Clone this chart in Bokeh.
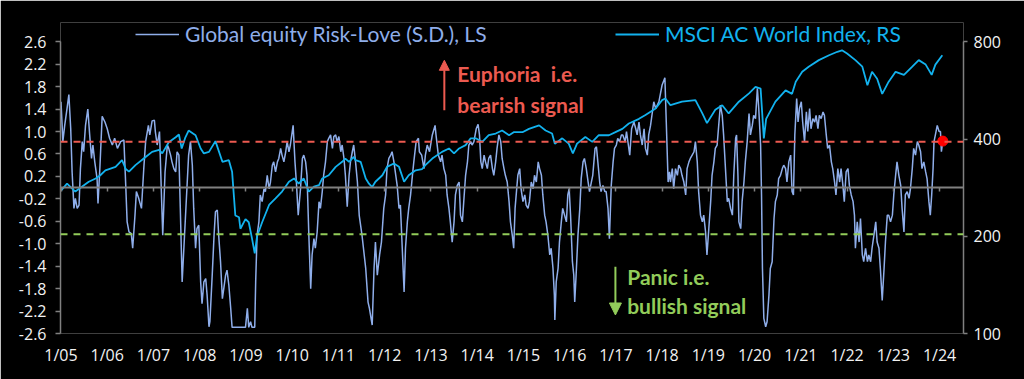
from bokeh.plotting import figure
from bokeh.models import (Range1d, LinearAxis, LogAxis, LogScale, FixedTicker, NumeralTickFormatter,
                          Span, Label, Arrow, NormalHead, Legend, LegendItem)
from bokeh.embed import file_html
from bokeh.resources import INLINE

# ---------------- data ----------------
rl_year = [2005.00, 2005.04, 2005.08, 2005.13, 2005.17, 2005.21, 2005.24, 2005.28, 2005.31, 2005.35,
           2005.39, 2005.42, 2005.46, 2005.49, 2005.53, 2005.58, 2005.62, 2005.66, 2005.69, 2005.73,
           2005.78, 2005.80, 2005.84, 2005.89, 2005.95, 2006.00, 2006.05, 2006.11, 2006.16, 2006.22,
           2006.29, 2006.36, 2006.40, 2006.43, 2006.47, 2006.52, 2006.55, 2006.60, 2006.63, 2006.68,
           2006.74, 2006.79, 2006.83, 2006.89, 2006.92, 2006.97, 2007.02, 2007.04, 2007.08, 2007.13,
           2007.17, 2007.20, 2007.25, 2007.30, 2007.33, 2007.37, 2007.40, 2007.44, 2007.48, 2007.51,
           2007.55, 2007.58, 2007.62, 2007.66, 2007.69, 2007.73, 2007.76, 2007.80, 2007.84, 2007.87,
           2007.91, 2007.94, 2007.98, 2008.02, 2008.05, 2008.09, 2008.13, 2008.16, 2008.20, 2008.22,
           2008.27, 2008.31, 2008.34, 2008.38, 2008.41, 2008.45, 2008.49, 2008.52, 2008.56, 2008.59,
           2008.63, 2008.67, 2008.70, 2008.85, 2008.99, 2009.03, 2009.06, 2009.10, 2009.13, 2009.19,
           2009.21, 2009.24, 2009.28, 2009.31, 2009.35, 2009.39, 2009.42, 2009.46, 2009.50, 2009.53,
           2009.57, 2009.60, 2009.64, 2009.68, 2009.71, 2009.75, 2009.78, 2009.82, 2009.86, 2009.89,
           2009.93, 2009.96, 2010.02, 2010.06, 2010.09, 2010.13, 2010.18, 2010.22, 2010.25, 2010.29,
           2010.32, 2010.36, 2010.40, 2010.43, 2010.47, 2010.50, 2010.54, 2010.58, 2010.61, 2010.65,
           2010.68, 2010.72, 2010.76, 2010.79, 2010.83, 2010.87, 2010.90, 2010.94, 2010.97, 2011.01,
           2011.05, 2011.08, 2011.12, 2011.15, 2011.19, 2011.23, 2011.26, 2011.30, 2011.33, 2011.37,
           2011.41, 2011.45, 2011.51, 2011.59, 2011.64, 2011.67, 2011.73, 2011.77, 2011.80, 2011.84,
           2011.89, 2011.93, 2011.98, 2012.02, 2012.05, 2012.09, 2012.13, 2012.16, 2012.20, 2012.24,
           2012.27, 2012.31, 2012.34, 2012.38, 2012.42, 2012.45, 2012.49, 2012.52, 2012.56, 2012.60,
           2012.63, 2012.68, 2012.73, 2012.75, 2012.80, 2012.85, 2012.88, 2012.92, 2012.97, 2013.03,
           2013.09, 2013.11, 2013.16, 2013.21, 2013.24, 2013.28, 2013.32, 2013.35, 2013.39, 2013.42,
           2013.46, 2013.50, 2013.53, 2013.57, 2013.61, 2013.64, 2013.68, 2013.71, 2013.75, 2013.79,
           2013.82, 2013.86, 2013.89, 2013.93, 2013.98, 2014.02, 2014.05, 2014.08, 2014.11, 2014.15,
           2014.18, 2014.22, 2014.25, 2014.29, 2014.33, 2014.36, 2014.40, 2014.43, 2014.47, 2014.51,
           2014.54, 2014.58, 2014.61, 2014.65, 2014.69, 2014.72, 2014.76, 2014.79, 2014.82, 2014.85,
           2014.88, 2014.92, 2014.95, 2014.99, 2015.03, 2015.06, 2015.10, 2015.13, 2015.17, 2015.21,
           2015.24, 2015.28, 2015.32, 2015.35, 2015.39, 2015.42, 2015.46, 2015.49, 2015.53, 2015.57,
           2015.60, 2015.64, 2015.67, 2015.68, 2015.71, 2015.75, 2015.78, 2015.82, 2015.85, 2015.89,
           2015.93, 2015.96, 2015.99, 2016.02, 2016.06, 2016.09, 2016.11, 2016.14, 2016.18, 2016.22,
           2016.25, 2016.29, 2016.32, 2016.36, 2016.40, 2016.43, 2016.47, 2016.50, 2016.55, 2016.58,
           2016.61, 2016.65, 2016.68, 2016.72, 2016.76, 2016.79, 2016.83, 2016.86, 2016.90, 2016.94,
           2016.97, 2017.01, 2017.04, 2017.08, 2017.12, 2017.15, 2017.20, 2017.23, 2017.27, 2017.30,
           2017.34, 2017.39, 2017.43, 2017.46, 2017.50, 2017.53, 2017.57, 2017.61, 2017.64, 2017.68,
           2017.71, 2017.75, 2017.79, 2017.82, 2017.86, 2017.93, 2018.00, 2018.06, 2018.09, 2018.13,
           2018.16, 2018.18, 2018.22, 2018.25, 2018.29, 2018.33, 2018.36, 2018.40, 2018.43, 2018.47,
           2018.51, 2018.54, 2018.58, 2018.61, 2018.65, 2018.69, 2018.72, 2018.76, 2018.79, 2018.83,
           2018.87, 2018.90, 2018.94, 2018.97, 2019.01, 2019.05, 2019.08, 2019.12, 2019.15, 2019.19,
           2019.23, 2019.26, 2019.30, 2019.33, 2019.37, 2019.41, 2019.44, 2019.48, 2019.52, 2019.55,
           2019.59, 2019.61, 2019.64, 2019.66, 2019.70, 2019.73, 2019.77, 2019.80, 2019.84, 2019.88,
           2019.91, 2019.95, 2019.98, 2020.02, 2020.06, 2020.09, 2020.13, 2020.15, 2020.17, 2020.20,
           2020.24, 2020.27, 2020.31, 2020.34, 2020.38, 2020.42, 2020.45, 2020.49, 2020.52, 2020.56,
           2020.60, 2020.63, 2020.67, 2020.70, 2020.74, 2020.78, 2020.81, 2020.84, 2020.87, 2020.91,
           2020.94, 2020.97, 2021.01, 2021.04, 2021.08, 2021.12, 2021.15, 2021.19, 2021.22, 2021.26,
           2021.30, 2021.33, 2021.37, 2021.40, 2021.44, 2021.48, 2021.51, 2021.55, 2021.58, 2021.62,
           2021.66, 2021.69, 2021.73, 2021.76, 2021.80, 2021.84, 2021.87, 2021.91, 2021.94, 2021.98,
           2022.02, 2022.05, 2022.09, 2022.13, 2022.16, 2022.18, 2022.22, 2022.26, 2022.29, 2022.33,
           2022.36, 2022.40, 2022.44, 2022.47, 2022.51, 2022.54, 2022.58, 2022.62, 2022.65, 2022.69,
           2022.72, 2022.76, 2022.80, 2022.83, 2022.87, 2022.90, 2022.94, 2022.98, 2023.01, 2023.05,
           2023.08, 2023.12, 2023.16, 2023.19, 2023.23, 2023.26, 2023.30, 2023.34, 2023.37, 2023.41,
           2023.44, 2023.48, 2023.52, 2023.55, 2023.59, 2023.62, 2023.66, 2023.70, 2023.73, 2023.77,
           2023.80, 2023.83, 2023.86, 2023.88, 2023.91, 2023.95, 2023.99, 2024.02, 2024.04, 2024.07]

rl_value = [1.53, 0.82, 1.11, 1.41, 1.66, 1.05, 0.28, -0.37, -0.19, -0.37,
            -0.31, 0.34, 0.82, 0.64, 1.11, 1.40, 0.94, 0.52, 0.76, 0.46,
            0.16, -0.28, 0.34, 1.27, 1.17, 1.05, 0.88, 0.76, 0.88, 0.70,
            0.82, 0.85, 0.04, -0.61, -0.79, -0.82, -1.08, -0.49, -0.07, -0.19,
            -0.37, 0.34, 0.82, 1.11, 0.94, 1.19, 1.20, 1.00, 0.76, 1.00,
            -0.07, -0.85, 0.28, 0.76, 0.70, 0.58, 0.46, 0.34, 0.28, 0.64,
            0.58, -0.37, -1.68, -1.03, -0.55, 0.10, 0.58, 0.82, 0.40, -0.37,
            -1.08, -0.73, -0.67, -1.68, -2.07, -1.68, -1.62, -1.92, -2.48, -2.39,
            -1.56, -0.85, -0.43, -0.40, -0.85, -1.32, -1.98, -1.80, -1.56, -1.47,
            -1.74, -2.15, -2.49, -2.49, -2.49, -2.15, -2.49, -2.39, -2.49, -2.49,
            -1.68, -0.85, -0.61, -0.13, -0.25, -0.02, -0.07, 0.22, -0.02, 0.10,
            0.40, 0.46, 0.28, 0.46, 0.52, 0.70, 0.58, 0.46, 0.64, 0.82,
            0.64, 0.76, 1.11, 0.46, 0.10, -0.49, -0.02, 0.52, 0.58, 0.46,
            0.22, -0.85, -1.80, -1.20, -0.91, -1.08, -0.79, -0.25, -0.37, -0.07,
            0.22, 0.46, 0.82, 0.88, 0.94, 0.70, 0.91, 0.94, 0.82, 0.91,
            0.64, 0.76, 0.52, 0.22, -0.34, 0.22, 0.46, 0.64, 0.76, 0.46,
            0.10, -0.50, -0.85, -1.44, -2.04, -2.15, -2.45, -1.44, -0.97, -1.56,
            -1.20, -0.97, -0.37, -0.13, 0.34, 0.52, 0.58, 0.64, 0.46, 0.22,
            0.04, -0.37, -0.31, -1.08, -1.86, -1.08, -0.61, -0.37, -0.13, 0.22,
            0.46, 0.82, 0.88, 0.64, 0.58, 0.34, 0.58, 0.76, 0.64, 0.94,
            1.11, 0.94, 0.58, 0.46, 0.58, 0.34, 0.22, -0.13, -0.37, -0.61,
            -0.97, -0.61, -0.13, 0.04, 0.10, -0.49, -0.61, -0.25, 0.22, 0.46,
            0.76, 0.82, 0.76, 0.82, 1.05, 1.13, 0.94, 0.46, 0.34, 0.58,
            0.46, 0.34, 0.52, 0.58, 0.34, 0.22, 0.46, 0.70, 0.94, 0.82,
            0.52, 0.34, 0.22, 0.10, -0.25, -0.61, -0.85, -1.08, -0.37, -0.07,
            0.22, 0.34, -0.02, -0.25, -0.13, -0.31, -0.37, -0.25, 0.10, -0.02,
            0.22, 0.10, 0.46, 0.34, 0.22, -0.13, -0.49, -0.61, -0.85, -1.20,
            -1.08, -1.44, -1.92, -2.36, -1.68, -1.44, -0.97, -0.61, -0.37, -0.49,
            -0.61, -0.13, -0.02, -0.49, -1.32, -1.56, -2.04, -1.56, -0.85, -0.37,
            0.16, 0.46, 0.52, 0.34, 0.10, -0.07, 0.10, 0.22, 0.70, 0.73,
            0.46, 0.10, -0.07, 0.04, -0.07, -0.07, -0.37, -0.91, 0.04, 0.46,
            0.70, 0.76, 0.88, 0.82, 0.94, 0.94, 0.82, 1.00, 0.76, 0.58,
            1.05, 1.17, 1.05, 0.94, 1.17, 0.94, 0.76, 1.05, 0.70, 0.58,
            0.94, 1.11, 1.35, 1.53, 1.41, 1.53, 1.83, 1.96, 1.17, 0.10,
            0.28, 0.10, 0.34, -0.02, 0.34, 0.22, 0.40, 0.34, 0.22, 0.10,
            -0.13, 0.34, 0.46, 0.52, 0.58, 0.64, 0.82, 0.46, -0.07, -0.49,
            -0.61, -0.49, -0.79, -1.20, -0.73, -0.25, 0.22, 0.46, 0.70, 0.76,
            1.17, 1.47, 1.29, 0.94, 0.34, -0.25, -0.19, -0.37, -0.49, 0.22,
            0.88, 0.94, 0.22, -0.61, -0.73, -0.25, 0.10, 0.46, 0.82, 1.32,
            0.94, 1.11, 1.29, 1.23, 1.77, 1.41, 0.76, -0.13, -1.44, -2.33,
            -2.48, -2.39, -1.92, -1.44, -1.32, -0.55, -0.25, -0.13, 0.16, 0.22,
            0.34, 0.40, 0.34, 0.10, 0.46, 0.58, -0.07, -0.13, 0.94, 1.59,
            1.17, 1.41, 1.53, 1.17, 0.82, 1.35, 1.00, 1.41, 1.05, 1.23,
            1.17, 1.29, 1.05, 1.29, 1.23, 1.35, 1.29, 0.94, 0.70, 0.76,
            0.46, 0.34, 0.10, -0.13, 0.34, 0.10, 0.34, 0.04, -0.25, 0.28,
            0.34, 0.04, -0.13, -0.25, -0.49, -1.08, -0.61, -0.97, -0.55, -1.20,
            -1.32, -1.08, -1.32, -1.20, -1.32, -1.08, -0.85, -0.61, -0.97, -1.08,
            -1.44, -2.01, -1.44, -0.97, -0.49, -0.49, -0.61, -0.49, -0.13, 0.22,
            0.46, 0.22, 0.04, -0.37, -0.79, -0.13, -0.07, -0.19, -0.02, 0.34,
            0.70, 0.58, 0.82, 0.76, 0.64, 0.34, 0.46, 0.28, 0.16, -0.25,
            -0.49, -0.13, 0.34, 0.82, 0.94, 1.11, 1.00, 1.00, 0.64, 0.83]

msci_year = [2005.00, 2005.13, 2005.31, 2005.60, 2005.75, 2005.85, 2005.96, 2006.18, 2006.32, 2006.40,
             2006.47, 2006.61, 2006.83, 2006.97, 2007.12, 2007.19, 2007.33, 2007.48, 2007.55, 2007.61,
             2007.69, 2007.76, 2007.91, 2008.02, 2008.09, 2008.20, 2008.34, 2008.49, 2008.63, 2008.70,
             2008.77, 2008.85, 2008.88, 2008.99, 2009.06, 2009.13, 2009.19, 2009.24, 2009.35, 2009.50,
             2009.64, 2009.78, 2009.93, 2010.04, 2010.14, 2010.25, 2010.36, 2010.47, 2010.58, 2010.65,
             2010.79, 2010.94, 2011.08, 2011.15, 2011.23, 2011.33, 2011.37, 2011.48, 2011.59, 2011.66,
             2011.73, 2011.80, 2011.95, 2012.05, 2012.20, 2012.31, 2012.42, 2012.52, 2012.67, 2012.81,
             2012.88, 2013.03, 2013.24, 2013.39, 2013.50, 2013.61, 2013.75, 2013.86, 2013.97, 2014.11,
             2014.25, 2014.40, 2014.54, 2014.69, 2014.79, 2014.98, 2015.12, 2015.34, 2015.48, 2015.62,
             2015.68, 2015.84, 2015.98, 2016.07, 2016.16, 2016.34, 2016.49, 2016.63, 2016.85, 2016.99,
             2017.14, 2017.28, 2017.50, 2017.64, 2017.86, 2018.00, 2018.07, 2018.18, 2018.43, 2018.72,
             2018.87, 2018.97, 2019.15, 2019.30, 2019.44, 2019.66, 2019.88, 2020.02, 2020.13, 2020.20,
             2020.25, 2020.45, 2020.67, 2020.81, 2020.89, 2021.03, 2021.17, 2021.39, 2021.61, 2021.79,
             2021.89, 2022.00, 2022.18, 2022.33, 2022.44, 2022.54, 2022.65, 2022.76, 2022.90, 2023.05,
             2023.23, 2023.41, 2023.55, 2023.70, 2023.83, 2023.91, 2024.06]

msci_value = [277, 291, 275, 295, 302, 309, 320, 328, 344, 323,
              317, 332, 352, 365, 370, 361, 391, 405, 413, 374,
              405, 425, 411, 374, 361, 365, 394, 340, 344, 317,
              232, 229, 211, 226, 221, 197, 177, 200, 221, 250,
              262, 275, 295, 302, 291, 302, 275, 285, 288, 302,
              309, 328, 340, 348, 340, 352, 344, 340, 302, 291,
              284, 295, 309, 328, 336, 328, 295, 309, 320, 323,
              332, 348, 365, 374, 361, 374, 383, 402, 402, 392,
              411, 416, 425, 411, 420, 420, 430, 441, 425, 416,
              387, 402, 387, 361, 387, 406, 392, 411, 411, 420,
              430, 447, 462, 475, 497, 528, 534, 509, 522, 528,
              480, 448, 493, 509, 480, 522, 554, 580, 573, 402,
              462, 522, 566, 552, 602, 646, 670, 702, 727, 745,
              753, 736, 702, 670, 587, 646, 615, 552, 602, 646,
              632, 670, 702, 680, 632, 680, 727]

x_ticks = [2005, 2006, 2007, 2008, 2009, 2010, 2011, 2012, 2013, 2014,
           2015, 2016, 2017, 2018, 2019, 2020, 2021, 2022, 2023, 2024]
x_labels = ["1/05", "1/06", "1/07", "1/08", "1/09", "1/10", "1/11", "1/12", "1/13", "1/14",
            "1/15", "1/16", "1/17", "1/18", "1/19", "1/20", "1/21", "1/22", "1/23", "1/24"]
left_ticks = [2.6, 2.2, 1.8, 1.4, 1.0, 0.6, 0.2, -0.2, -0.6, -1.0, -1.4, -1.8, -2.2, -2.6]
right_ticks = [100, 200, 400, 800]
euphoria_level = 0.82
panic_level = -0.83

series_names = ["Global equity Risk-Love (S.D.), LS", "MSCI AC World Index, RS"]

# ---------------- styling ----------------
RL_COLOR = "#8FAEEA"
MSCI_COLOR = "#12B2EE"
RED = "#EC5A50"
GREEN = "#92CC5A"
GRAY = "#808080"
TXT = "#F2F2F2"
FONT = "Open Sans"
LFONT = "Lato"

y_lo, y_hi = -2.6, 2.944
p = figure(width=1024, height=379, output_backend="svg", toolbar_location=None,
           x_range=Range1d(2004.989, 2024.518), y_range=Range1d(y_lo, y_hi),
           x_axis_location=None, y_axis_location=None,
           background_fill_color="black", border_fill_color="black",
           outline_line_color=None,
           min_border_left=60, min_border_right=61, min_border_top=22, min_border_bottom=46)
for g in p.grid:
    g.visible = False

# right log scale shares the pixel span of the left axis: 100 <-> -2.6, 800 <-> 2.6
r_top = 100 * 8 ** ((y_hi - y_lo) / 5.2)
p.extra_y_ranges = {"msci": Range1d(100, r_top)}
p.extra_y_scales = {"msci": LogScale()}

# axes
yl = LinearAxis(ticker=FixedTicker(ticks=left_ticks, minor_ticks=[]),
                formatter=NumeralTickFormatter(format="0.0"), bounds=(-2.6, 2.6),
                axis_line_color=GRAY, axis_line_width=1.5,
                major_tick_line_color=GRAY, major_tick_line_width=1.5,
                major_tick_out=5, major_tick_in=0, minor_tick_line_color=None,
                major_label_text_color=TXT, major_label_text_font=FONT,
                major_label_text_font_size="16px", major_label_standoff=9)
p.add_layout(yl, "left")

yr = LogAxis(y_range_name="msci", ticker=FixedTicker(ticks=right_ticks, minor_ticks=[]),
             formatter=NumeralTickFormatter(format="0"), bounds=(100, 800),
             axis_line_color=GRAY, axis_line_width=1.5,
             major_tick_line_color=GRAY, major_tick_line_width=1.5,
             major_tick_out=4, major_tick_in=0, minor_tick_line_color=None,
             major_label_text_color=TXT, major_label_text_font=FONT,
             major_label_text_font_size="16px", major_label_standoff=6)
p.add_layout(yr, "right")

xb = LinearAxis(ticker=FixedTicker(ticks=x_ticks, minor_ticks=[]),
                major_label_overrides=dict(zip(x_ticks, x_labels)),
                axis_line_color=None, major_tick_line_color=None, minor_tick_line_color=None,
                major_label_text_color=TXT, major_label_text_font=FONT,
                major_label_text_font_size="16px", major_label_standoff=4)
p.add_layout(xb, "below")

x0 = LinearAxis(fixed_location=0, ticker=FixedTicker(ticks=x_ticks, minor_ticks=[]),
                major_label_overrides={t: "" for t in x_ticks},
                axis_line_color=GRAY, axis_line_width=2,
                major_tick_line_color=GRAY, major_tick_line_width=1.5,
                major_tick_out=4, major_tick_in=0, minor_tick_line_color=None,
                major_label_text_font_size="1px")
p.add_layout(x0, "below")

# threshold lines
p.add_layout(Span(location=euphoria_level, dimension="width", line_color=RED,
                  line_dash="7 6", line_width=2))
p.add_layout(Span(location=panic_level, dimension="width", line_color=GREEN,
                  line_dash="7 6", line_width=2))

# series
r1 = p.line(rl_year, rl_value, line_color=RL_COLOR, line_width=1.5)
r2 = p.line(msci_year, msci_value, line_color=MSCI_COLOR, line_width=1.8, y_range_name="msci")
p.scatter([rl_year[-1]], [rl_value[-1]], size=10, fill_color="#FF0000", line_color="#FF0000")

# legends
leg_common = dict(orientation="horizontal", background_fill_alpha=0, border_line_color=None,
                  padding=0, margin=0, glyph_width=44, glyph_height=20, label_height=20,
                  label_standoff=6, label_text_font=LFONT, label_text_font_size="21px")
leg1 = Legend(items=[LegendItem(label=series_names[0], renderers=[r1])], location=(75, 287),
              label_text_color=RL_COLOR, **leg_common)
leg2 = Legend(items=[LegendItem(label=series_names[1], renderers=[r2])], location=(555, 287),
              label_text_color=MSCI_COLOR, **leg_common)
p.add_layout(leg1)
p.add_layout(leg2)

# annotations
p.add_layout(Arrow(end=NormalHead(size=10, fill_color=RED, line_color=RED),
                   x_start=2013.29, y_start=1.38, x_end=2013.29, y_end=2.27,
                   line_color=RED, line_width=2))
for txt, yy in [("Euphoria\u00a0 i.e.", 2.03), ("bearish signal", 1.49)]:
    p.add_layout(Label(x=2013.57, y=yy, text=txt, text_color=RED, text_font=LFONT,
                       text_font_style="bold", text_font_size="21px",
                       text_baseline="middle", text_align="left"))

p.add_layout(Arrow(end=NormalHead(size=12, fill_color=GREEN, line_color=GREEN),
                   x_start=2016.99, y_start=-1.41, x_end=2016.99, y_end=-2.27,
                   line_color=GREEN, line_width=2))
for txt, yy in [("Panic i.e.", -1.59), ("bullish signal", -2.10)]:
    p.add_layout(Label(x=2017.245, y=yy, text=txt, text_color=GREEN, text_font=LFONT,
                       text_font_style="bold", text_font_size="21px",
                       text_baseline="middle", text_align="left"))

open("out.html", "w").write(file_html(p, INLINE))
